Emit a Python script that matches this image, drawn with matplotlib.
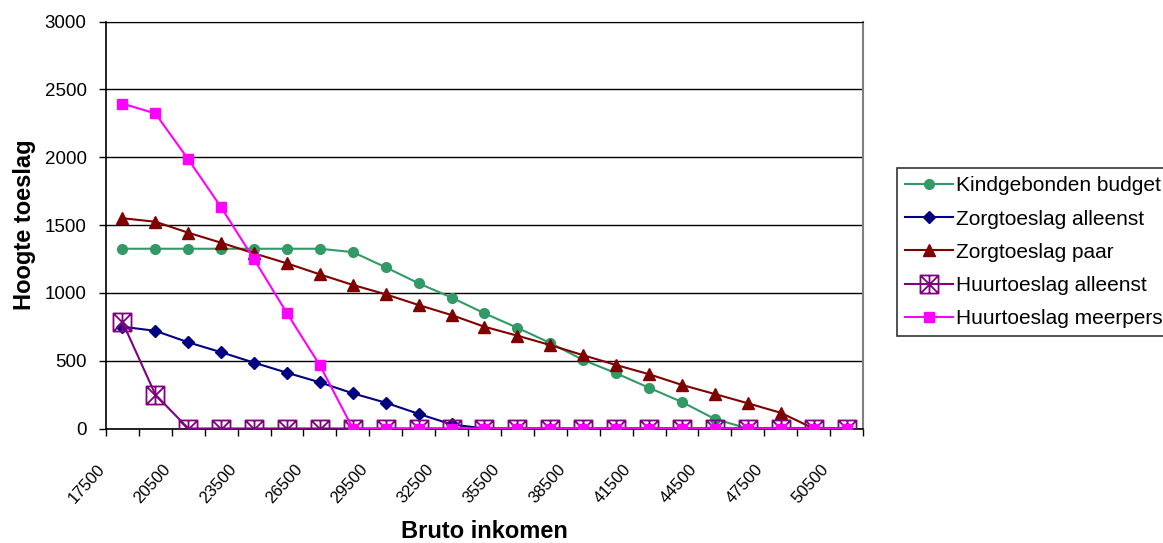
import matplotlib
matplotlib.use("Agg")
import matplotlib.pyplot as plt
from matplotlib.path import Path
import matplotlib.transforms as mtransforms

plt.rcParams['font.family'] = ['Liberation Sans', 'DejaVu Sans']

categories = [17500 + 1500 * i for i in range(23)]
tick_labels = [str(c) for c in categories]

kindgebonden = [1325, 1325, 1325, 1325, 1325, 1325, 1325, 1300, 1188, 1070, 965, 849, 742, 630, 505,
                407, 300, 195, 70, 0, 0, 0, 0]
zorg_alleen = [750, 720, 635, 562, 485, 411, 340, 259, 190, 108, 30, 0, 0, 0, 0,
               0, 0, 0, 0, 0, 0, 0, 0]
zorg_paar = [1550, 1524, 1443, 1369, 1291, 1217, 1136, 1058, 989, 910, 836, 750, 684, 615, 540,
             468, 400, 321, 254, 186, 116, 0, 0]
huur_alleen = [785, 250, 0, 0, 0, 0, 0, 0, 0, 0, 0, 0, 0, 0, 0,
               0, 0, 0, 0, 0, 0, 0, 0]
huur_meer = [2395, 2322, 1984, 1630, 1247, 849, 465, 0, 0, 0, 0, 0, 0, 0, 0,
             0, 0, 0, 0, 0, 0, 0, 0]

series_names = ["Kindgebonden budget", "Zorgtoeslag alleenst", "Zorgtoeslag paar",
                "Huurtoeslag alleenst", "Huurtoeslag meerpers"]

# box with asterisk marker
verts = [(-1, -1), (1, -1), (1, 1), (-1, 1), (-1, -1),
         (-1, -1), (1, 1), (-1, 1), (1, -1), (0, -1), (0, 1)]
codes = [Path.MOVETO, Path.LINETO, Path.LINETO, Path.LINETO, Path.CLOSEPOLY,
         Path.MOVETO, Path.LINETO, Path.MOVETO, Path.LINETO, Path.MOVETO, Path.LINETO]
box_star = Path(verts, codes)

fig = plt.figure(figsize=(11.63, 5.43), dpi=100)
ax = fig.add_axes([106 / 1163, 1 - 428.5 / 543, (863 - 106) / 1163, (428.5 - 21.5) / 543])

x = list(range(len(categories)))
lw = 1.5
ax.plot(x, kindgebonden, color='#339966', lw=lw, marker='o', ms=7, label=series_names[0], zorder=3)
ax.plot(x, zorg_alleen, color='#000080', lw=lw, marker='D', ms=6.5, label=series_names[1], zorder=4)
ax.plot(x, zorg_paar, color='#800000', lw=lw, marker='^', ms=8, label=series_names[2], zorder=5)
ax.plot(x, huur_alleen, color='#800080', lw=lw, marker=box_star, ms=13, mfc='none', mec='#800080',
        mew=1.3, label=series_names[3], zorder=6)
ax.plot(x, huur_meer, color='#FF00FF', lw=lw, marker='s', ms=7, label=series_names[4], zorder=7)

ax.set_xlim(-0.5, len(categories) - 0.5)
ax.set_ylim(0, 3000)
ax.set_yticks(range(0, 3001, 500))
ax.yaxis.grid(True, color='black', lw=1)
ax.set_axisbelow(True)
ax.tick_params(axis='y', labelsize=13.5, length=5, width=1, direction='out', pad=9)

ax.set_xticks([i - 0.5 for i in range(len(categories) + 1)])
ax.set_xticklabels([])
ax.tick_params(axis='x', length=5, width=1, direction='out')
offset = mtransforms.ScaledTranslation(-15 / 100, -33 / 100, fig.dpi_scale_trans)
for i in range(0, len(categories), 2):
    ax.text(i, 0, tick_labels[i], rotation=48, ha='right', va='top', fontsize=12,
            transform=ax.get_xaxis_transform() + offset, clip_on=False)

for s in ['left', 'bottom']:
    ax.spines[s].set_color('black')
    ax.spines[s].set_linewidth(1.2)
ax.spines['top'].set_color('black')
ax.spines['right'].set_color('#808080')
ax.spines['right'].set_linewidth(1.5)

ax.set_ylabel("Hoogte toeslag", fontsize=17, fontweight='bold')
ax.yaxis.set_label_coords((36 - 106) / 757, 0.5)
fig.text((106 + 863) / 2 / 1163, 1 - 532 / 543, "Bruto inkomen", fontsize=17, fontweight='bold',
         ha='center', va='center')

leg = fig.legend(loc='upper left', bbox_to_anchor=(897 / 1163, 1 - 168 / 543), fontsize=15,
                 frameon=True, fancybox=False, edgecolor='black', borderpad=0.4,
                 handlelength=2.3, handletextpad=0.15, labelspacing=0.68, borderaxespad=0,
                 markerscale=1.0)
leg.get_frame().set_linewidth(1.2)

fig.savefig("out.png", dpi=100)
